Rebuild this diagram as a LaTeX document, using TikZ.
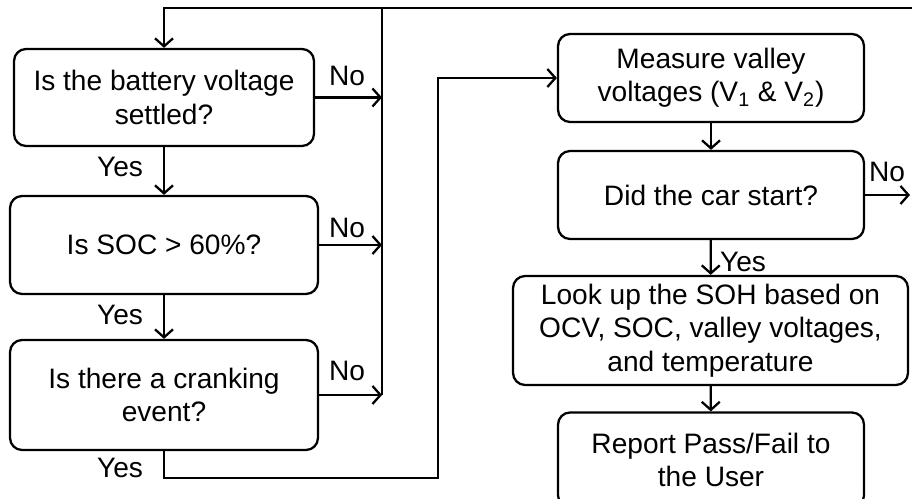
\documentclass[tikz,border=0pt]{standalone}
\usepackage{fontspec}
\setmainfont{Liberation Sans}
\usetikzlibrary{arrows.meta}

\tikzstyle{box} = [draw, rectangle, rounded corners=0.24cm, line width=1.3pt, align=center, inner sep=2pt, font=\fontsize{16}{19}\selectfont]
\tikzstyle{line} = [draw, line width=1.3pt, -{Straight Barb[length=1.6mm,width=3.6mm]}]
\tikzstyle{wire} = [draw, line width=1.3pt]
\tikzstyle{lbl} = [font=\fontsize{16}{19}\selectfont, inner sep=0pt]

\begin{document}
\begin{tikzpicture}[x=0.02cm,y=-0.02cm]
		\useasboundingbox (0,0) rectangle (912,499);

		%left column
		\node[box, minimum width=6cm, minimum height=1.94cm] (settled) at (164,97.5) {Is the battery voltage\\settled?};
		\node[box, minimum width=6.16cm, minimum height=1.96cm] (soc) at (164,245) {Is SOC > 60\%?};
		\node[box, minimum width=6.16cm, minimum height=2.2cm] (crank) at (164,395) {Is there a cranking\\event?};
		%right column
		\node[box, minimum width=6.12cm, minimum height=1.76cm] (valley) at (711,78) {Measure valley\\voltages (V\textsubscript{1} \& V\textsubscript{2})};
		\node[box, minimum width=6.12cm, minimum height=1.76cm] (start) at (711,195) {Did the car start?};
		\node[box, minimum width=7.9cm, minimum height=2.18cm] (lookup) at (710.5,330.5) {Look up the SOH based on\\OCV, SOC, valley voltages,\\and temperature};
		\node[box, minimum width=6.12cm, minimum height=1.9cm] (report) at (711,460) {Report Pass/Fail to\\the User};

		%helper points
		\coordinate (bustop) at (382,8);
		\coordinate (busbot) at (382,395);
		\coordinate (edge) at (912,8);
		\coordinate (yesturn) at (438,478);
		\coordinate (noend) at (910,195);

		%feedback bus
		\path[wire] (bustop) -- (busbot);
		\path[line] (edge) -| (settled.north);
		\path[line] (settled.east) -- (settled.east -| bustop);
		\path[line] (soc.east) -- (soc.east -| bustop);
		\path[line] (crank.east) -- (busbot);

		%yes path
		\path[line] (settled) -- (soc);
		\path[line] (soc) -- (crank);
		\path[line] (crank.south) |- (yesturn) |- (valley.west);
		\path[line] (valley) -- (start);
		\path[line] (start.east) -- (noend);
		\path[line] (start) -- (lookup);
		\path[line] (lookup) -- (report);

		%labels
		\node[lbl] (no1) at (347,76) {No};
		\node[lbl] (no2) at (347,228) {No};
		\node[lbl] (no3) at (347,371) {No};
		\node[lbl] (yes1) at (120,167) {Yes};
		\node[lbl] (yes2) at (120,315) {Yes};
		\node[lbl] (yes3) at (120,468) {Yes};
		\node[lbl] (no4) at (887,172) {No};
		\node[lbl] (yes4) at (743,262) {Yes};
\end{tikzpicture}
\end{document}
